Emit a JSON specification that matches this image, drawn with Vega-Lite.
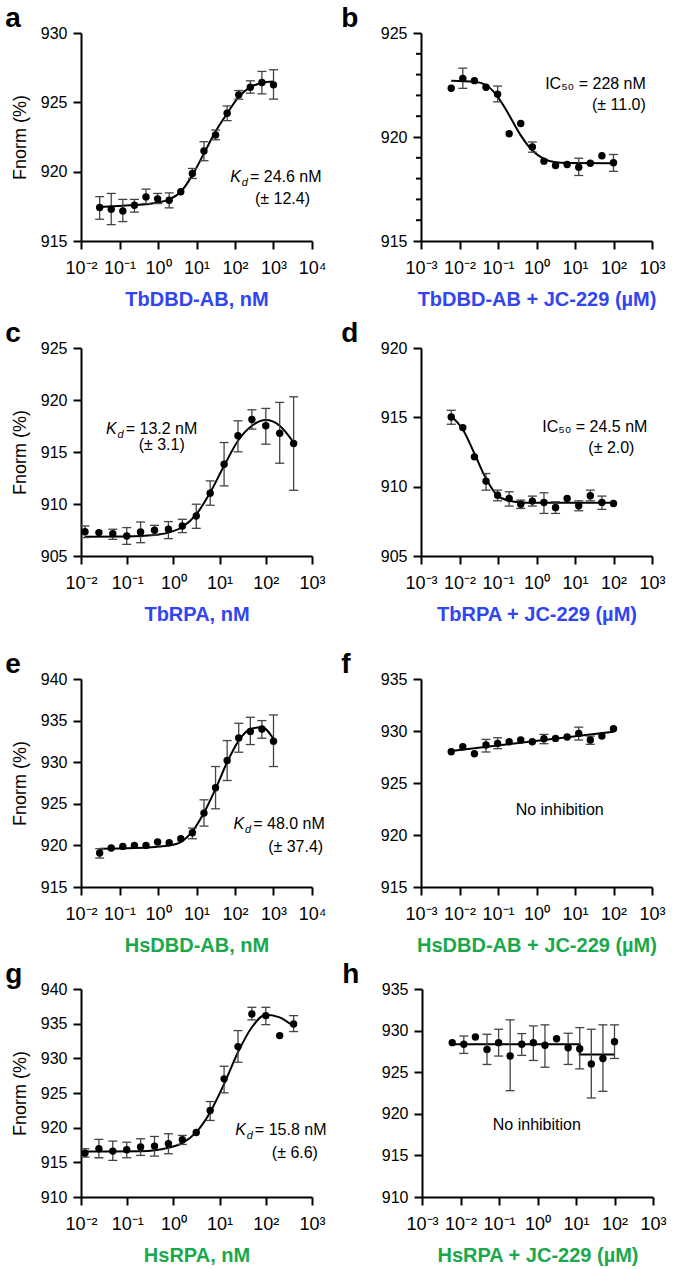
{
"$schema": "https://vega.github.io/schema/vega-lite/v6.json",
"config": {
  "view": {"stroke": null},
  "font": "Liberation Sans",
  "axis": {"domainColor": "black", "domainWidth": 2, "tickColor": "black", "tickWidth": 2, "tickSize": 8, "labelFontSize": 16, "labelColor": "black", "grid": false, "titleColor": "black", "labelFlush": false, "labelOverlap": false, "labelBound": false},
  "axisX": {"titleFontSize": 20, "titleFontWeight": "bold", "titlePadding": 12, "labelFontSize": 18, "labelPadding": 10},
  "axisY": {"titleFontSize": 18, "titleFontWeight": "normal", "titlePadding": 11, "labelPadding": 6},
  "title": {"fontSize": 28, "fontWeight": "bold", "anchor": "start", "frame": "bounds", "color": "black", "offset": -8},
  "concat": {"spacing": 15}
},
"datasets": {
  "a_pts": [
    {"x": 0.0305, "y": 917.41, "lo": 916.57, "hi": 918.2},
    {"x": 0.061, "y": 917.29, "lo": 916.18, "hi": 918.43},
    {"x": 0.122, "y": 917.17, "lo": 916.4, "hi": 918.0},
    {"x": 0.244, "y": 917.58, "lo": 917.08, "hi": 918.0},
    {"x": 0.488, "y": 918.18, "lo": 917.7, "hi": 918.74},
    {"x": 0.977, "y": 918.04, "lo": 917.7, "hi": 918.43},
    {"x": 1.953, "y": 917.94, "lo": 917.39, "hi": 918.47},
    {"x": 3.906, "y": 918.55},
    {"x": 7.8125, "y": 919.87, "lo": 919.51, "hi": 920.23},
    {"x": 15.625, "y": 921.49, "lo": 920.79, "hi": 922.16},
    {"x": 31.25, "y": 922.65, "lo": 922.3, "hi": 923.0},
    {"x": 62.5, "y": 924.21, "lo": 923.68, "hi": 924.74},
    {"x": 125, "y": 925.54, "lo": 925.23, "hi": 925.85},
    {"x": 250, "y": 926.09, "lo": 925.66, "hi": 926.55},
    {"x": 500, "y": 926.43, "lo": 925.61, "hi": 927.23},
    {"x": 1000, "y": 926.26, "lo": 925.23, "hi": 927.35}
  ],
  "a_fit": [
    {"x": 0.0305, "y": 917.46}, {"x": 0.122, "y": 917.55}, {"x": 0.488, "y": 917.65}, {"x": 0.977, "y": 917.77},
    {"x": 1.953, "y": 918.0}, {"x": 3.906, "y": 918.55}, {"x": 7.8125, "y": 919.75}, {"x": 15.625, "y": 921.32},
    {"x": 31.25, "y": 922.9}, {"x": 62.5, "y": 924.2}, {"x": 125, "y": 925.4}, {"x": 250, "y": 926.1},
    {"x": 500, "y": 926.4}, {"x": 1000, "y": 926.5}
  ],
  "a_txt": [
    {"x": 245, "y": 919.26, "t": "= 24.6 nM", "kd": true},
    {"x": 331, "y": 917.67, "t": "(± 12.4)", "kd": false}
  ],
  "b_pts": [
    {"x": 0.0061, "y": 922.34},
    {"x": 0.0122, "y": 922.82, "lo": 922.34, "hi": 923.31},
    {"x": 0.0244, "y": 922.71},
    {"x": 0.0488, "y": 922.39},
    {"x": 0.0977, "y": 922.06, "lo": 921.69, "hi": 922.45},
    {"x": 0.195, "y": 920.16},
    {"x": 0.39, "y": 920.65},
    {"x": 0.78, "y": 919.52, "lo": 919.27, "hi": 919.76},
    {"x": 1.5625, "y": 918.84},
    {"x": 3.125, "y": 918.63},
    {"x": 6.25, "y": 918.68},
    {"x": 12.5, "y": 918.55, "lo": 918.15, "hi": 918.98},
    {"x": 25, "y": 918.74},
    {"x": 50, "y": 919.1},
    {"x": 100, "y": 918.76, "lo": 918.35, "hi": 919.16}
  ],
  "b_fit": [
    {"x": 0.0061, "y": 922.71}, {"x": 0.0244, "y": 922.66}, {"x": 0.0488, "y": 922.5}, {"x": 0.0977, "y": 921.94},
    {"x": 0.195, "y": 921.05}, {"x": 0.39, "y": 920.08}, {"x": 0.78, "y": 919.35}, {"x": 1.5625, "y": 918.95},
    {"x": 3.125, "y": 918.79}, {"x": 6.25, "y": 918.75}, {"x": 100, "y": 918.74}
  ],
  "b_txt": [
    {"x": 692, "y": 922.29, "t": "IC₅₀ = 228 nM"},
    {"x": 692, "y": 921.28, "t": "(± 11.0)"}
  ],
  "b_minor": [
    {"x": 0.001, "y": 916}, {"x": 0.001, "y": 917}, {"x": 0.001, "y": 918}, {"x": 0.001, "y": 919},
    {"x": 0.001, "y": 921}, {"x": 0.001, "y": 922}, {"x": 0.001, "y": 923}, {"x": 0.001, "y": 924}
  ],
  "c_pts": [
    {"x": 0.0122, "y": 907.34, "lo": 906.77, "hi": 907.89},
    {"x": 0.0244, "y": 907.25},
    {"x": 0.0488, "y": 907.15, "lo": 906.6, "hi": 907.57},
    {"x": 0.0977, "y": 906.93, "lo": 906.12, "hi": 907.73},
    {"x": 0.195, "y": 907.31, "lo": 906.28, "hi": 908.27},
    {"x": 0.39, "y": 907.47, "lo": 907.02, "hi": 907.95},
    {"x": 0.78, "y": 907.57, "lo": 906.67, "hi": 908.31},
    {"x": 1.5625, "y": 907.89, "lo": 907.25, "hi": 908.53},
    {"x": 3.125, "y": 908.85, "lo": 907.66, "hi": 909.98},
    {"x": 6.25, "y": 911.04, "lo": 909.88, "hi": 912.22},
    {"x": 12.5, "y": 913.83, "lo": 911.74, "hi": 915.91},
    {"x": 25, "y": 916.56, "lo": 915.02, "hi": 918.0},
    {"x": 50, "y": 918.13, "lo": 917.2, "hi": 919.06},
    {"x": 100, "y": 917.52, "lo": 915.75, "hi": 919.19},
    {"x": 200, "y": 916.81, "lo": 913.92, "hi": 919.77},
    {"x": 400, "y": 915.82, "lo": 911.32, "hi": 920.31}
  ],
  "c_fit": [
    {"x": 0.0122, "y": 906.86}, {"x": 0.0977, "y": 906.88}, {"x": 0.39, "y": 907.02}, {"x": 0.78, "y": 907.25},
    {"x": 1.5625, "y": 907.79}, {"x": 3.125, "y": 909.0}, {"x": 6.25, "y": 911.1}, {"x": 12.5, "y": 913.67},
    {"x": 25, "y": 916.08}, {"x": 50, "y": 917.52}, {"x": 100, "y": 918.07}, {"x": 200, "y": 917.52}, {"x": 400, "y": 915.91}
  ],
  "c_txt": [
    {"x": 0.093, "y": 916.73, "t": "= 13.2 nM", "kd": true},
    {"x": 0.177, "y": 915.19, "t": "(± 3.1)", "kd": false}
  ],
  "d_pts": [
    {"x": 0.0061, "y": 915.03, "lo": 914.5, "hi": 915.51},
    {"x": 0.0122, "y": 914.26},
    {"x": 0.0244, "y": 912.15},
    {"x": 0.0488, "y": 910.4, "lo": 909.75, "hi": 910.95},
    {"x": 0.0977, "y": 909.39, "lo": 908.98, "hi": 909.75},
    {"x": 0.195, "y": 909.15, "lo": 908.6, "hi": 909.63},
    {"x": 0.39, "y": 908.74, "lo": 908.43, "hi": 909.03},
    {"x": 0.78, "y": 908.96, "lo": 908.6, "hi": 909.32},
    {"x": 1.5625, "y": 908.86, "lo": 908.07, "hi": 909.56},
    {"x": 3.125, "y": 908.5, "lo": 908.07, "hi": 908.91},
    {"x": 6.25, "y": 909.15},
    {"x": 12.5, "y": 908.62, "lo": 908.26, "hi": 908.98},
    {"x": 25, "y": 909.34, "lo": 908.98, "hi": 909.75},
    {"x": 50, "y": 908.86, "lo": 908.36, "hi": 909.32},
    {"x": 100, "y": 908.79}
  ],
  "d_fit": [
    {"x": 0.0061, "y": 915.08}, {"x": 0.0122, "y": 914.12}, {"x": 0.0244, "y": 912.39}, {"x": 0.0488, "y": 910.59},
    {"x": 0.0977, "y": 909.34}, {"x": 0.195, "y": 908.98}, {"x": 0.39, "y": 908.86}, {"x": 0.78, "y": 908.84}, {"x": 100, "y": 908.84}
  ],
  "d_txt": [
    {"x": 759, "y": 913.94, "t": "IC₅₀ = 24.5 nM"},
    {"x": 350, "y": 912.43, "t": "(± 2.0)"}
  ],
  "e_pts": [
    {"x": 0.0305, "y": 919.08, "lo": 918.48, "hi": 919.6},
    {"x": 0.061, "y": 919.68},
    {"x": 0.122, "y": 919.88},
    {"x": 0.244, "y": 920.0},
    {"x": 0.488, "y": 920.0},
    {"x": 0.977, "y": 920.4},
    {"x": 1.953, "y": 920.32},
    {"x": 3.906, "y": 920.8},
    {"x": 7.8125, "y": 921.52, "lo": 920.8, "hi": 922.08},
    {"x": 15.625, "y": 923.88, "lo": 922.32, "hi": 925.48},
    {"x": 31.25, "y": 926.92, "lo": 924.4, "hi": 929.48},
    {"x": 62.5, "y": 930.2, "lo": 927.8, "hi": 932.6},
    {"x": 125, "y": 932.92, "lo": 931.2, "hi": 934.68},
    {"x": 250, "y": 933.68, "lo": 932.12, "hi": 935.4},
    {"x": 500, "y": 934.0, "lo": 932.88, "hi": 935.0},
    {"x": 1000, "y": 932.52, "lo": 929.48, "hi": 935.68}
  ],
  "e_fit": [
    {"x": 0.0305, "y": 919.6}, {"x": 0.244, "y": 919.68}, {"x": 1.953, "y": 920.0}, {"x": 3.906, "y": 920.4},
    {"x": 7.8125, "y": 921.68}, {"x": 15.625, "y": 923.92}, {"x": 31.25, "y": 926.8}, {"x": 62.5, "y": 930.0},
    {"x": 125, "y": 932.6}, {"x": 250, "y": 934.0}, {"x": 500, "y": 934.2}, {"x": 1000, "y": 932.8}
  ],
  "e_txt": [
    {"x": 297, "y": 921.97, "t": "= 48.0 nM", "kd": true},
    {"x": 727, "y": 919.2, "t": "(± 37.4)", "kd": false}
  ],
  "f_pts": [
    {"x": 0.0061, "y": 928.01},
    {"x": 0.0122, "y": 928.49},
    {"x": 0.0244, "y": 927.82},
    {"x": 0.0488, "y": 928.65, "lo": 927.98, "hi": 929.19},
    {"x": 0.0977, "y": 928.81, "lo": 928.3, "hi": 929.35},
    {"x": 0.195, "y": 928.97},
    {"x": 0.39, "y": 929.13},
    {"x": 0.78, "y": 928.97},
    {"x": 1.5625, "y": 929.26, "lo": 928.78, "hi": 929.67},
    {"x": 3.125, "y": 929.29},
    {"x": 6.25, "y": 929.42},
    {"x": 12.5, "y": 929.77, "lo": 929.13, "hi": 930.37},
    {"x": 25, "y": 929.13, "lo": 928.72, "hi": 929.51},
    {"x": 50, "y": 929.51},
    {"x": 100, "y": 930.22}
  ],
  "f_fit": [
    {"x": 0.0061, "y": 928.08}, {"x": 100, "y": 929.93}
  ],
  "f_txt": [
    {"x": 4.0, "y": 921.89, "t": "No inhibition"}
  ],
  "g_pts": [
    {"x": 0.0122, "y": 916.33, "lo": 915.76, "hi": 916.96},
    {"x": 0.0244, "y": 916.96, "lo": 915.66, "hi": 918.3},
    {"x": 0.0488, "y": 916.62, "lo": 915.28, "hi": 918.06},
    {"x": 0.0977, "y": 916.81, "lo": 915.66, "hi": 917.9},
    {"x": 0.195, "y": 917.2, "lo": 916.0, "hi": 918.4},
    {"x": 0.39, "y": 917.34, "lo": 915.9, "hi": 918.73},
    {"x": 0.78, "y": 917.68, "lo": 916.24, "hi": 919.12},
    {"x": 1.5625, "y": 918.25, "lo": 917.58, "hi": 918.88},
    {"x": 3.125, "y": 919.31},
    {"x": 6.25, "y": 922.48, "lo": 921.04, "hi": 923.77},
    {"x": 12.5, "y": 927.04, "lo": 925.02, "hi": 928.86},
    {"x": 25, "y": 931.69, "lo": 929.44, "hi": 934.0},
    {"x": 50, "y": 936.4, "lo": 935.54, "hi": 937.36},
    {"x": 100, "y": 936.16, "lo": 934.86, "hi": 937.36},
    {"x": 200, "y": 933.28},
    {"x": 400, "y": 934.96, "lo": 933.86, "hi": 936.16}
  ],
  "g_fit": [
    {"x": 0.0122, "y": 916.57}, {"x": 0.0488, "y": 916.57}, {"x": 0.195, "y": 916.6}, {"x": 0.78, "y": 917.1},
    {"x": 1.5625, "y": 917.77}, {"x": 3.125, "y": 919.36}, {"x": 6.25, "y": 922.24}, {"x": 12.5, "y": 926.3},
    {"x": 25, "y": 930.88}, {"x": 50, "y": 934.48}, {"x": 100, "y": 936.3}, {"x": 200, "y": 935.9}, {"x": 400, "y": 934.58}
  ],
  "g_txt": [
    {"x": 58, "y": 918.9, "t": "= 15.8 nM", "kd": true},
    {"x": 135, "y": 915.6, "t": "(± 6.6)", "kd": false}
  ],
  "h_pts": [
    {"x": 0.0061, "y": 928.55},
    {"x": 0.0122, "y": 928.35, "lo": 927.26, "hi": 929.35},
    {"x": 0.0244, "y": 929.23},
    {"x": 0.0488, "y": 927.74, "lo": 925.93, "hi": 929.56},
    {"x": 0.0977, "y": 928.55, "lo": 926.94, "hi": 930.16},
    {"x": 0.195, "y": 926.94, "lo": 922.78, "hi": 931.29},
    {"x": 0.39, "y": 928.35, "lo": 927.02, "hi": 929.64},
    {"x": 0.78, "y": 928.55, "lo": 926.41, "hi": 930.56},
    {"x": 1.5625, "y": 928.23, "lo": 925.6, "hi": 930.69},
    {"x": 3.125, "y": 929.03},
    {"x": 6.25, "y": 927.94, "lo": 925.93, "hi": 929.68},
    {"x": 12.5, "y": 927.82, "lo": 925.4, "hi": 930.36},
    {"x": 25, "y": 926.0, "lo": 921.9, "hi": 930.16},
    {"x": 50, "y": 926.65, "lo": 922.7, "hi": 930.69},
    {"x": 100, "y": 928.67, "lo": 926.65, "hi": 930.69}
  ],
  "h_fit": [
    {"x": 0.0061, "y": 928.35}, {"x": 12.5, "y": 927.14}, {"x": 100, "y": 927.14}
  ],
  "h_txt": [
    {"x": 0.96, "y": 918.0, "t": "No inhibition"}
  ]
},
"vconcat": [
{"vconcat": [
{"hconcat": [
{
  "width": 231, "height": 208,
  "title": {"text": "a", "dx": -6},
  "encoding": {
    "x": {"field": "x", "type": "quantitative", "scale": {"type": "log", "domain": [0.01, 10000], "nice": false},
      "axis": {"values": [0.01, 0.1, 1, 10, 100, 1000, 10000], "labelExpr": "'10' + replace(replace(replace(replace(replace(replace('' + round(log(datum.value) / LN10), '-', '⁻'), '0', '⁰'), '1', '¹'), '2', '²'), '3', '³'), '4', '⁴')", "title": "TbDBD-AB, nM", "titleColor": "#3145f0"}},
    "y": {"field": "y", "type": "quantitative", "scale": {"domain": [915, 930], "nice": false, "zero": false},
      "axis": {"values": [915, 920, 925, 930], "title": "Fnorm (%)"}}
  },
  "layer": [
    {"data": {"name": "a_fit"}, "mark": {"type": "line", "interpolate": "monotone", "color": "black", "strokeWidth": 2}},
    {"data": {"name": "a_pts"}, "transform": [{"filter": "isValid(datum.hi)"}], "mark": {"type": "rule", "color": "#444", "strokeWidth": 1.3},
      "encoding": {"y": {"field": "lo", "type": "quantitative", "scale": {"domain": [915, 930], "nice": false, "zero": false}}, "y2": {"field": "hi"}}},
    {"data": {"name": "a_pts"}, "transform": [{"filter": "isValid(datum.hi)"}], "mark": {"type": "tick", "orient": "horizontal", "size": 9, "thickness": 1.3, "color": "#444", "opacity": 1},
      "encoding": {"y": {"field": "hi", "type": "quantitative", "scale": {"domain": [915, 930], "nice": false, "zero": false}}}},
    {"data": {"name": "a_pts"}, "transform": [{"filter": "isValid(datum.lo)"}], "mark": {"type": "tick", "orient": "horizontal", "size": 9, "thickness": 1.3, "color": "#444", "opacity": 1},
      "encoding": {"y": {"field": "lo", "type": "quantitative", "scale": {"domain": [915, 930], "nice": false, "zero": false}}}},
    {"data": {"name": "a_pts"}, "mark": {"type": "circle", "size": 55, "color": "black", "opacity": 1}},
    {"data": {"name": "a_txt"}, "mark": {"type": "text", "align": "left", "baseline": "alphabetic", "fontSize": 16}, "encoding": {"text": {"field": "t"}}},
    {"data": {"name": "a_txt"}, "transform": [{"filter": "datum.kd"}], "mark": {"type": "text", "text": "K", "fontStyle": "italic", "align": "right", "baseline": "alphabetic", "dx": -9, "fontSize": 16}},
    {"data": {"name": "a_txt"}, "transform": [{"filter": "datum.kd"}], "mark": {"type": "text", "text": "d", "fontStyle": "italic", "align": "right", "baseline": "alphabetic", "dx": -2, "dy": 4, "fontSize": 11}}
  ]
},
{
  "width": 231, "height": 208,
  "title": {"text": "b", "dx": -39},
  "encoding": {
    "x": {"field": "x", "type": "quantitative", "scale": {"type": "log", "domain": [0.001, 1000], "nice": false},
      "axis": {"values": [0.001, 0.01, 0.1, 1, 10, 100, 1000], "labelExpr": "'10' + replace(replace(replace(replace(replace(replace('' + round(log(datum.value) / LN10), '-', '⁻'), '0', '⁰'), '1', '¹'), '2', '²'), '3', '³'), '4', '⁴')", "title": "TbDBD-AB + JC-229 (µM)", "titleColor": "#3145f0"}},
    "y": {"field": "y", "type": "quantitative", "scale": {"domain": [915, 925], "nice": false, "zero": false},
      "axis": {"values": [915, 920, 925], "title": null}}
  },
  "layer": [
    {"data": {"name": "b_minor"}, "mark": {"type": "tick", "orient": "horizontal", "size": 5, "thickness": 2, "xOffset": -2.5, "color": "black", "opacity": 1}},
    {"data": {"name": "b_fit"}, "mark": {"type": "line", "interpolate": "monotone", "color": "black", "strokeWidth": 2}},
    {"data": {"name": "b_pts"}, "transform": [{"filter": "isValid(datum.hi)"}], "mark": {"type": "rule", "color": "#444", "strokeWidth": 1.3},
      "encoding": {"y": {"field": "lo", "type": "quantitative", "scale": {"domain": [915, 925], "nice": false, "zero": false}}, "y2": {"field": "hi"}}},
    {"data": {"name": "b_pts"}, "transform": [{"filter": "isValid(datum.hi)"}], "mark": {"type": "tick", "orient": "horizontal", "size": 9, "thickness": 1.3, "color": "#444", "opacity": 1},
      "encoding": {"y": {"field": "hi", "type": "quantitative", "scale": {"domain": [915, 925], "nice": false, "zero": false}}}},
    {"data": {"name": "b_pts"}, "transform": [{"filter": "isValid(datum.lo)"}], "mark": {"type": "tick", "orient": "horizontal", "size": 9, "thickness": 1.3, "color": "#444", "opacity": 1},
      "encoding": {"y": {"field": "lo", "type": "quantitative", "scale": {"domain": [915, 925], "nice": false, "zero": false}}}},
    {"data": {"name": "b_pts"}, "mark": {"type": "circle", "size": 55, "color": "black", "opacity": 1}},
    {"data": {"name": "b_txt"}, "mark": {"type": "text", "align": "right", "baseline": "alphabetic", "fontSize": 16}, "encoding": {"text": {"field": "t"}}}
  ]
}
]},
{"hconcat": [
{
  "width": 231, "height": 208,
  "title": {"text": "c", "dx": -6},
  "encoding": {
    "x": {"field": "x", "type": "quantitative", "scale": {"type": "log", "domain": [0.01, 1000], "nice": false},
      "axis": {"values": [0.01, 0.1, 1, 10, 100, 1000], "labelExpr": "'10' + replace(replace(replace(replace(replace(replace('' + round(log(datum.value) / LN10), '-', '⁻'), '0', '⁰'), '1', '¹'), '2', '²'), '3', '³'), '4', '⁴')", "title": "TbRPA, nM", "titleColor": "#3145f0"}},
    "y": {"field": "y", "type": "quantitative", "scale": {"domain": [905, 925], "nice": false, "zero": false},
      "axis": {"values": [905, 910, 915, 920, 925], "title": "Fnorm (%)"}}
  },
  "layer": [
    {"data": {"name": "c_fit"}, "mark": {"type": "line", "interpolate": "monotone", "color": "black", "strokeWidth": 2}},
    {"data": {"name": "c_pts"}, "transform": [{"filter": "isValid(datum.hi)"}], "mark": {"type": "rule", "color": "#444", "strokeWidth": 1.3},
      "encoding": {"y": {"field": "lo", "type": "quantitative", "scale": {"domain": [905, 925], "nice": false, "zero": false}}, "y2": {"field": "hi"}}},
    {"data": {"name": "c_pts"}, "transform": [{"filter": "isValid(datum.hi)"}], "mark": {"type": "tick", "orient": "horizontal", "size": 9, "thickness": 1.3, "color": "#444", "opacity": 1},
      "encoding": {"y": {"field": "hi", "type": "quantitative", "scale": {"domain": [905, 925], "nice": false, "zero": false}}}},
    {"data": {"name": "c_pts"}, "transform": [{"filter": "isValid(datum.lo)"}], "mark": {"type": "tick", "orient": "horizontal", "size": 9, "thickness": 1.3, "color": "#444", "opacity": 1},
      "encoding": {"y": {"field": "lo", "type": "quantitative", "scale": {"domain": [905, 925], "nice": false, "zero": false}}}},
    {"data": {"name": "c_pts"}, "mark": {"type": "circle", "size": 55, "color": "black", "opacity": 1}},
    {"data": {"name": "c_txt"}, "mark": {"type": "text", "align": "left", "baseline": "alphabetic", "fontSize": 16}, "encoding": {"text": {"field": "t"}}},
    {"data": {"name": "c_txt"}, "transform": [{"filter": "datum.kd"}], "mark": {"type": "text", "text": "K", "fontStyle": "italic", "align": "right", "baseline": "alphabetic", "dx": -9, "fontSize": 16}},
    {"data": {"name": "c_txt"}, "transform": [{"filter": "datum.kd"}], "mark": {"type": "text", "text": "d", "fontStyle": "italic", "align": "right", "baseline": "alphabetic", "dx": -2, "dy": 4, "fontSize": 11}}
  ]
},
{
  "width": 231, "height": 208,
  "title": {"text": "d", "dx": -39},
  "encoding": {
    "x": {"field": "x", "type": "quantitative", "scale": {"type": "log", "domain": [0.001, 1000], "nice": false},
      "axis": {"values": [0.001, 0.01, 0.1, 1, 10, 100, 1000], "labelExpr": "'10' + replace(replace(replace(replace(replace(replace('' + round(log(datum.value) / LN10), '-', '⁻'), '0', '⁰'), '1', '¹'), '2', '²'), '3', '³'), '4', '⁴')", "title": "TbRPA + JC-229 (µM)", "titleColor": "#3145f0"}},
    "y": {"field": "y", "type": "quantitative", "scale": {"domain": [905, 920], "nice": false, "zero": false},
      "axis": {"values": [905, 910, 915, 920], "title": null}}
  },
  "layer": [
    {"data": {"name": "d_fit"}, "mark": {"type": "line", "interpolate": "monotone", "color": "black", "strokeWidth": 2}},
    {"data": {"name": "d_pts"}, "transform": [{"filter": "isValid(datum.hi)"}], "mark": {"type": "rule", "color": "#444", "strokeWidth": 1.3},
      "encoding": {"y": {"field": "lo", "type": "quantitative", "scale": {"domain": [905, 920], "nice": false, "zero": false}}, "y2": {"field": "hi"}}},
    {"data": {"name": "d_pts"}, "transform": [{"filter": "isValid(datum.hi)"}], "mark": {"type": "tick", "orient": "horizontal", "size": 9, "thickness": 1.3, "color": "#444", "opacity": 1},
      "encoding": {"y": {"field": "hi", "type": "quantitative", "scale": {"domain": [905, 920], "nice": false, "zero": false}}}},
    {"data": {"name": "d_pts"}, "transform": [{"filter": "isValid(datum.lo)"}], "mark": {"type": "tick", "orient": "horizontal", "size": 9, "thickness": 1.3, "color": "#444", "opacity": 1},
      "encoding": {"y": {"field": "lo", "type": "quantitative", "scale": {"domain": [905, 920], "nice": false, "zero": false}}}},
    {"data": {"name": "d_pts"}, "mark": {"type": "circle", "size": 55, "color": "black", "opacity": 1}},
    {"data": {"name": "d_txt"}, "mark": {"type": "text", "align": "right", "baseline": "alphabetic", "fontSize": 16}, "encoding": {"text": {"field": "t"}}}
  ]
}
]}
], "spacing": 11},
{"vconcat": [
{"hconcat": [
{
  "width": 231, "height": 208,
  "title": {"text": "e", "dx": -6},
  "encoding": {
    "x": {"field": "x", "type": "quantitative", "scale": {"type": "log", "domain": [0.01, 10000], "nice": false},
      "axis": {"values": [0.01, 0.1, 1, 10, 100, 1000, 10000], "labelExpr": "'10' + replace(replace(replace(replace(replace(replace('' + round(log(datum.value) / LN10), '-', '⁻'), '0', '⁰'), '1', '¹'), '2', '²'), '3', '³'), '4', '⁴')", "title": "HsDBD-AB, nM", "titleColor": "#1aa84c"}},
    "y": {"field": "y", "type": "quantitative", "scale": {"domain": [915, 940], "nice": false, "zero": false},
      "axis": {"values": [915, 920, 925, 930, 935, 940], "title": "Fnorm (%)"}}
  },
  "layer": [
    {"data": {"name": "e_fit"}, "mark": {"type": "line", "interpolate": "monotone", "color": "black", "strokeWidth": 2}},
    {"data": {"name": "e_pts"}, "transform": [{"filter": "isValid(datum.hi)"}], "mark": {"type": "rule", "color": "#444", "strokeWidth": 1.3},
      "encoding": {"y": {"field": "lo", "type": "quantitative", "scale": {"domain": [915, 940], "nice": false, "zero": false}}, "y2": {"field": "hi"}}},
    {"data": {"name": "e_pts"}, "transform": [{"filter": "isValid(datum.hi)"}], "mark": {"type": "tick", "orient": "horizontal", "size": 9, "thickness": 1.3, "color": "#444", "opacity": 1},
      "encoding": {"y": {"field": "hi", "type": "quantitative", "scale": {"domain": [915, 940], "nice": false, "zero": false}}}},
    {"data": {"name": "e_pts"}, "transform": [{"filter": "isValid(datum.lo)"}], "mark": {"type": "tick", "orient": "horizontal", "size": 9, "thickness": 1.3, "color": "#444", "opacity": 1},
      "encoding": {"y": {"field": "lo", "type": "quantitative", "scale": {"domain": [915, 940], "nice": false, "zero": false}}}},
    {"data": {"name": "e_pts"}, "mark": {"type": "circle", "size": 55, "color": "black", "opacity": 1}},
    {"data": {"name": "e_txt"}, "mark": {"type": "text", "align": "left", "baseline": "alphabetic", "fontSize": 16}, "encoding": {"text": {"field": "t"}}},
    {"data": {"name": "e_txt"}, "transform": [{"filter": "datum.kd"}], "mark": {"type": "text", "text": "K", "fontStyle": "italic", "align": "right", "baseline": "alphabetic", "dx": -9, "fontSize": 16}},
    {"data": {"name": "e_txt"}, "transform": [{"filter": "datum.kd"}], "mark": {"type": "text", "text": "d", "fontStyle": "italic", "align": "right", "baseline": "alphabetic", "dx": -2, "dy": 4, "fontSize": 11}}
  ]
},
{
  "width": 231, "height": 208,
  "title": {"text": "f", "dx": -39},
  "encoding": {
    "x": {"field": "x", "type": "quantitative", "scale": {"type": "log", "domain": [0.001, 1000], "nice": false},
      "axis": {"values": [0.001, 0.01, 0.1, 1, 10, 100, 1000], "labelExpr": "'10' + replace(replace(replace(replace(replace(replace('' + round(log(datum.value) / LN10), '-', '⁻'), '0', '⁰'), '1', '¹'), '2', '²'), '3', '³'), '4', '⁴')", "title": "HsDBD-AB + JC-229 (µM)", "titleColor": "#1aa84c"}},
    "y": {"field": "y", "type": "quantitative", "scale": {"domain": [915, 935], "nice": false, "zero": false},
      "axis": {"values": [915, 920, 925, 930, 935], "title": null}}
  },
  "layer": [
    {"data": {"name": "f_fit"}, "mark": {"type": "line", "color": "black", "strokeWidth": 2}},
    {"data": {"name": "f_pts"}, "transform": [{"filter": "isValid(datum.hi)"}], "mark": {"type": "rule", "color": "#444", "strokeWidth": 1.3},
      "encoding": {"y": {"field": "lo", "type": "quantitative", "scale": {"domain": [915, 935], "nice": false, "zero": false}}, "y2": {"field": "hi"}}},
    {"data": {"name": "f_pts"}, "transform": [{"filter": "isValid(datum.hi)"}], "mark": {"type": "tick", "orient": "horizontal", "size": 9, "thickness": 1.3, "color": "#444", "opacity": 1},
      "encoding": {"y": {"field": "hi", "type": "quantitative", "scale": {"domain": [915, 935], "nice": false, "zero": false}}}},
    {"data": {"name": "f_pts"}, "transform": [{"filter": "isValid(datum.lo)"}], "mark": {"type": "tick", "orient": "horizontal", "size": 9, "thickness": 1.3, "color": "#444", "opacity": 1},
      "encoding": {"y": {"field": "lo", "type": "quantitative", "scale": {"domain": [915, 935], "nice": false, "zero": false}}}},
    {"data": {"name": "f_pts"}, "mark": {"type": "circle", "size": 55, "color": "black", "opacity": 1}},
    {"data": {"name": "f_txt"}, "mark": {"type": "text", "align": "center", "baseline": "alphabetic", "fontSize": 16}, "encoding": {"text": {"field": "t"}}}
  ]
}
]},
{"hconcat": [
{
  "width": 231, "height": 208,
  "title": {"text": "g", "dx": -6},
  "encoding": {
    "x": {"field": "x", "type": "quantitative", "scale": {"type": "log", "domain": [0.01, 1000], "nice": false},
      "axis": {"values": [0.01, 0.1, 1, 10, 100, 1000], "labelExpr": "'10' + replace(replace(replace(replace(replace(replace('' + round(log(datum.value) / LN10), '-', '⁻'), '0', '⁰'), '1', '¹'), '2', '²'), '3', '³'), '4', '⁴')", "title": "HsRPA, nM", "titleColor": "#1aa84c"}},
    "y": {"field": "y", "type": "quantitative", "scale": {"domain": [910, 940], "nice": false, "zero": false},
      "axis": {"values": [910, 915, 920, 925, 930, 935, 940], "title": "Fnorm (%)"}}
  },
  "layer": [
    {"data": {"name": "g_fit"}, "mark": {"type": "line", "interpolate": "monotone", "color": "black", "strokeWidth": 2}},
    {"data": {"name": "g_pts"}, "transform": [{"filter": "isValid(datum.hi)"}], "mark": {"type": "rule", "color": "#444", "strokeWidth": 1.3},
      "encoding": {"y": {"field": "lo", "type": "quantitative", "scale": {"domain": [910, 940], "nice": false, "zero": false}}, "y2": {"field": "hi"}}},
    {"data": {"name": "g_pts"}, "transform": [{"filter": "isValid(datum.hi)"}], "mark": {"type": "tick", "orient": "horizontal", "size": 9, "thickness": 1.3, "color": "#444", "opacity": 1},
      "encoding": {"y": {"field": "hi", "type": "quantitative", "scale": {"domain": [910, 940], "nice": false, "zero": false}}}},
    {"data": {"name": "g_pts"}, "transform": [{"filter": "isValid(datum.lo)"}], "mark": {"type": "tick", "orient": "horizontal", "size": 9, "thickness": 1.3, "color": "#444", "opacity": 1},
      "encoding": {"y": {"field": "lo", "type": "quantitative", "scale": {"domain": [910, 940], "nice": false, "zero": false}}}},
    {"data": {"name": "g_pts"}, "mark": {"type": "circle", "size": 55, "color": "black", "opacity": 1}},
    {"data": {"name": "g_txt"}, "mark": {"type": "text", "align": "left", "baseline": "alphabetic", "fontSize": 16}, "encoding": {"text": {"field": "t"}}},
    {"data": {"name": "g_txt"}, "transform": [{"filter": "datum.kd"}], "mark": {"type": "text", "text": "K", "fontStyle": "italic", "align": "right", "baseline": "alphabetic", "dx": -9, "fontSize": 16}},
    {"data": {"name": "g_txt"}, "transform": [{"filter": "datum.kd"}], "mark": {"type": "text", "text": "d", "fontStyle": "italic", "align": "right", "baseline": "alphabetic", "dx": -2, "dy": 4, "fontSize": 11}}
  ]
},
{
  "width": 231, "height": 208,
  "title": {"text": "h", "dx": -39},
  "encoding": {
    "x": {"field": "x", "type": "quantitative", "scale": {"type": "log", "domain": [0.001, 1000], "nice": false},
      "axis": {"values": [0.001, 0.01, 0.1, 1, 10, 100, 1000], "labelExpr": "'10' + replace(replace(replace(replace(replace(replace('' + round(log(datum.value) / LN10), '-', '⁻'), '0', '⁰'), '1', '¹'), '2', '²'), '3', '³'), '4', '⁴')", "title": "HsRPA + JC-229 (µM)", "titleColor": "#1aa84c"}},
    "y": {"field": "y", "type": "quantitative", "scale": {"domain": [910, 935], "nice": false, "zero": false},
      "axis": {"values": [910, 915, 920, 925, 930, 935], "title": null}}
  },
  "layer": [
    {"data": {"name": "h_fit"}, "mark": {"type": "line", "interpolate": "step-after", "color": "black", "strokeWidth": 2}},
    {"data": {"name": "h_pts"}, "transform": [{"filter": "isValid(datum.hi)"}], "mark": {"type": "rule", "color": "#444", "strokeWidth": 1.3},
      "encoding": {"y": {"field": "lo", "type": "quantitative", "scale": {"domain": [910, 935], "nice": false, "zero": false}}, "y2": {"field": "hi"}}},
    {"data": {"name": "h_pts"}, "transform": [{"filter": "isValid(datum.hi)"}], "mark": {"type": "tick", "orient": "horizontal", "size": 9, "thickness": 1.3, "color": "#444", "opacity": 1},
      "encoding": {"y": {"field": "hi", "type": "quantitative", "scale": {"domain": [910, 935], "nice": false, "zero": false}}}},
    {"data": {"name": "h_pts"}, "transform": [{"filter": "isValid(datum.lo)"}], "mark": {"type": "tick", "orient": "horizontal", "size": 9, "thickness": 1.3, "color": "#444", "opacity": 1},
      "encoding": {"y": {"field": "lo", "type": "quantitative", "scale": {"domain": [910, 935], "nice": false, "zero": false}}}},
    {"data": {"name": "h_pts"}, "mark": {"type": "circle", "size": 55, "color": "black", "opacity": 1}},
    {"data": {"name": "h_txt"}, "mark": {"type": "text", "align": "center", "baseline": "alphabetic", "fontSize": 16}, "encoding": {"text": {"field": "t"}}}
  ]
}
]}
], "spacing": 6}
],
"spacing": 27
}
